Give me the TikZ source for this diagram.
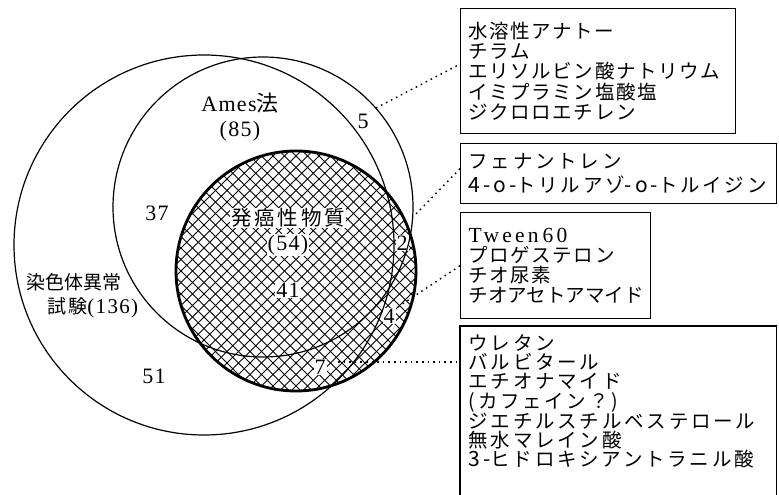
\documentclass[tikz,border=0pt]{standalone}
\usepackage{fontspec}
\setmainfont{Liberation Serif}[LetterSpace=6]
\newfontfamily\latwide[LetterSpace=15]{Liberation Serif}
\newfontfamily\jpfont[LetterSpace=8]{Noto Sans CJK JP}
\newfontfamily\jpplain{Noto Sans CJK JP}
\newfontfamily\jpwide[LetterSpace=14]{Noto Sans CJK JP}
\begin{document}
\begin{tikzpicture}[x=1pt,y=-1pt,
  setcircle/.style={line width=1.2pt},
  carccircle/.style={line width=2.8pt},
  hatchline/.style={line width=0.9pt},
  dotlink/.style={line width=1.4pt, dash pattern=on 1.6pt off 4pt},
  boxframe/.style={draw, line width=1.4pt, anchor=north west, align=left, inner xsep=8pt},
  lbl/.style={inner sep=1pt, font=\fontsize{22}{24}\selectfont},
  hlbl/.style={lbl, fill=white}]
\useasboundingbox (0,0) rectangle (779,495);
\fill[white] (0,0) rectangle (779,495);
% hatching of carcinogen set
\begin{scope}
  \clip (296,271) circle[radius=120pt];
  \foreach \k in {-25,...,25} {
    \draw[hatchline] ({296+\k*11.5-130},141) -- ++(260,260);
    \draw[hatchline] ({296+\k*11.5+130},141) -- ++(-260,260);
  }
\end{scope}
% labels
\node[lbl] (amesA) at (240,103) {Ames{\jpplain 法}};
\node[lbl] (ames85) at (240,131) {(85)};
\node[lbl] (n5) at (363,121) {5};
\node[lbl] (n37) at (157,213) {37};
\node[lbl, font=\fontsize{19}{21}\selectfont] (chrom1) at (74,282) {\jpplain 染色体異常};
\node[lbl, font=\fontsize{19}{21}\selectfont] (chrom2) at (93,308) {{\jpfont 試験}{\fontsize{21}{23}\selectfont(136)}};
\node[lbl] (n51) at (154,376) {51};
\node[hlbl, font=\fontsize{20.5}{22}\selectfont] (carc1) at (288,218) {\jpwide 発癌性物質};
\node[hlbl] (carc2) at (288,245) {(54)};
\node[hlbl] (n41) at (288,290) {41};
\node[hlbl] (n2) at (402,243) {2};
\node[hlbl] (n4) at (389,316) {4};
\node[hlbl] (n7) at (320,367) {7};
% circles
\draw[setcircle] (204,245) circle[radius=190pt];
\draw[setcircle] (263,207) circle[radius=150pt];
\draw[carccircle] (296,271) circle[radius=120pt];
% boxes
\node[boxframe, text width=259pt, minimum height=125pt, font=\fontsize{19.5}{20.3}\selectfont] (box1) at (460,8)
  {\jpfont 水溶性アナトー\\\jpfont チラム\\\jpfont エリソルビン酸ナトリウム\\\jpfont イミプラミン塩酸塩\\\jpfont ジクロロエチレン\\[3pt]};
\node[boxframe, text width=300pt, minimum height=60pt, font=\fontsize{19.5}{24}\selectfont] (box2) at (460,143)
  {\jpwide フェナントレン\\{\fontsize{21}{24}\selectfont 4-\textit{o}-}{\jpwide トリルアゾ}{\fontsize{21}{24}\selectfont -\textit{o}-}{\jpwide トルイジン}};
\node[boxframe, text width=174pt, minimum height=106pt, font=\fontsize{19.5}{20}\selectfont] (box3) at (460,212)
  {{\latwide\fontsize{21.5}{20}\selectfont Tween\kern4pt 60}\\\jpfont プロゲステロン\\\jpfont チオ尿素\\\jpplain チオアセトアマイド\\[2pt]};
\node[boxframe, draw=none, text width=299pt, inner ysep=8pt, font=\fontsize{19.5}{19.2}\selectfont] (box4) at (460,326)
  {\jpwide ウレタン\\\jpwide バルビタール\\\jpwide エチオナマイド\\({\jpwide カフェイン？})\\\jpwide ジエチルスチルベステロール\\\jpwide 無水マレイン酸\\{\fontsize{21}{19.2}\selectfont 3-}{\jpwide ヒドロキシアントラニル酸}};
\draw[line width=1.4pt] (box4.north west |- 0,520) -- (box4.north west) -- (box4.north east) -- (box4.north east |- 0,520);
% connectors
\coordinate (d5) at (376,108);
\coordinate (d2) at (416,214);
\coordinate (d4) at (398,307);
\coordinate (d7) at (338,362);
\draw[dotlink] (d5) -- ([yshift=7pt]box1.west);
\draw[dotlink] (d2) -- ([yshift=5pt]box2.west);
\draw[dotlink] (d4) -- (box3.west);
\draw[dotlink] (d7) -- (d7 -| box4.west);
\end{tikzpicture}
\end{document}
